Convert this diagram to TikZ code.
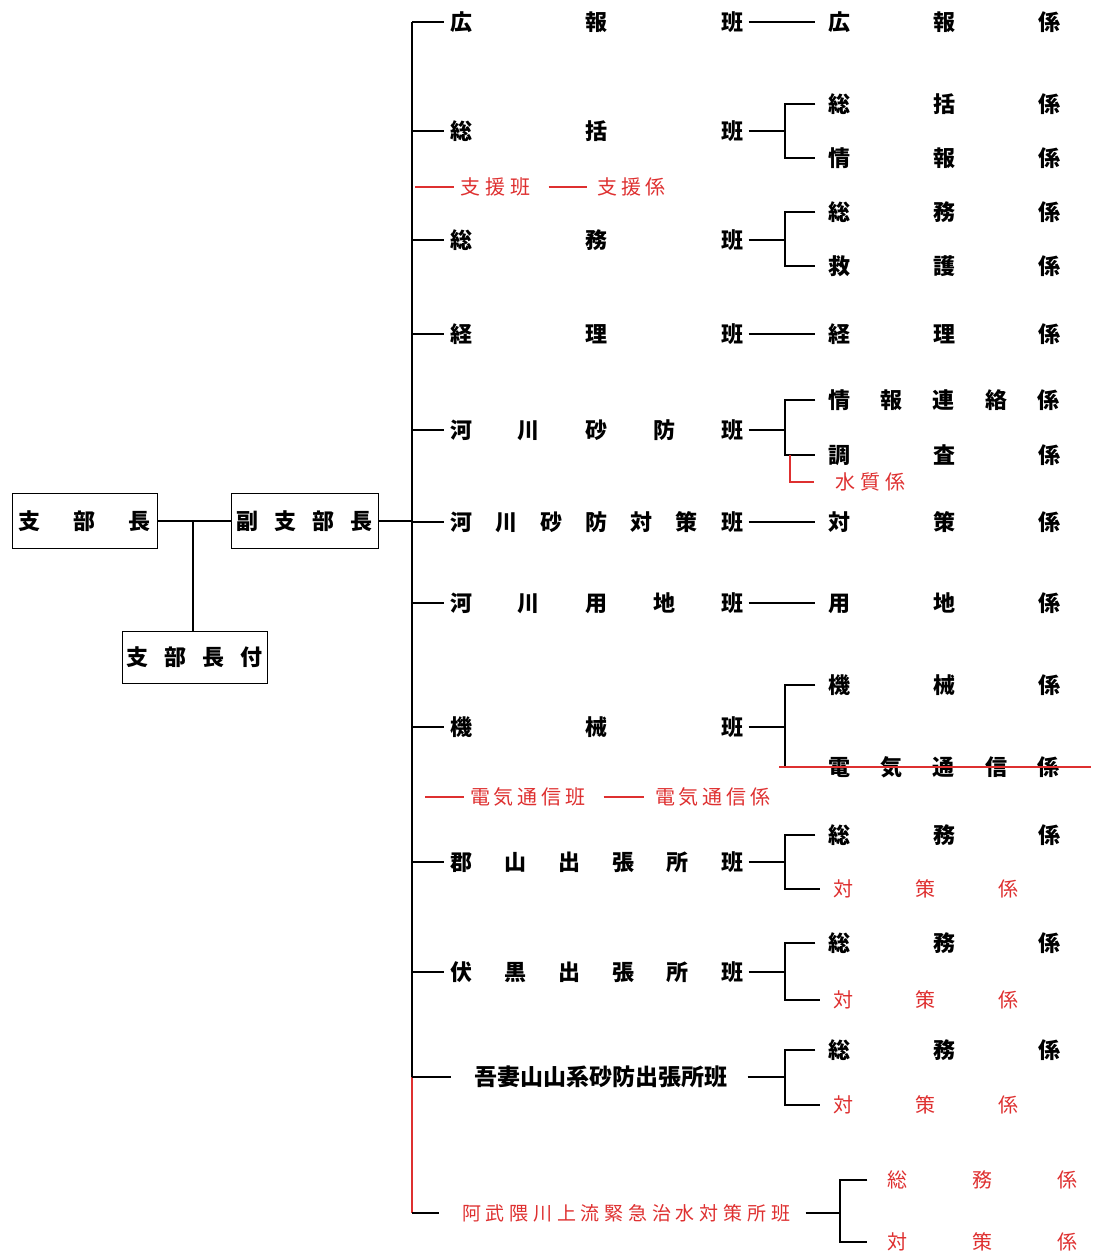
\documentclass[tikz,border=0pt]{standalone}
\usepackage{fontspec}
\newfontfamily\jp{Noto Sans CJK JP}
\definecolor{hanred}{RGB}{222,48,48}
\newcommand\spreadbox[2]{\hbox to #1pt{#2}}
\tikzset{
  ban/.style={inner sep=0pt, font=\jp\bfseries\fontsize{22}{22}\selectfont},
  akaban/.style={inner sep=0pt, text=hanred, font=\jp\fontsize{20}{20}\selectfont},
  waku/.style={ban, draw, line width=1pt, minimum height=55pt},
}
\begin{document}
\begin{tikzpicture}[x=1pt, y=-1pt, line width=1.2pt]
\useasboundingbox (0,0) rectangle (1094,1256);
% shibucho
\node[waku, minimum width=145pt] (bucho) at (84.5,521) {\spreadbox{133}{支\hfil 部\hfil 長}};
\node[waku, minimum width=147pt] (fuku) at (304.5,521) {\spreadbox{137}{副\hfil 支\hfil 部\hfil 長}};
\node[waku, minimum width=145pt, minimum height=52pt] (tsuki) at (194.5,657) {\spreadbox{136}{支\hfil 部\hfil 長\hfil 付}};
\draw (bucho.east) -- (fuku.west);
\coordinate (fukujunc) at (193,521);
\draw (fukujunc) -- (fukujunc |- tsuki.north);
% han
\node[ban] (koho) at (596.5,22) {\spreadbox{293}{広\hfil 報\hfil 班}};
\node[ban] (sokatsu) at (596.5,131) {\spreadbox{293}{総\hfil 括\hfil 班}};
\node[ban] (somu) at (596.5,240) {\spreadbox{293}{総\hfil 務\hfil 班}};
\node[ban] (keiri) at (596.5,334) {\spreadbox{293}{経\hfil 理\hfil 班}};
\node[ban] (sabo) at (596.5,430) {\spreadbox{293}{河\hfil 川\hfil 砂\hfil 防\hfil 班}};
\node[ban] (taisaku) at (596.5,522) {\spreadbox{293}{河\hfil 川\hfil 砂\hfil 防\hfil 対\hfil 策\hfil 班}};
\node[ban] (yochi) at (596.5,603) {\spreadbox{293}{河\hfil 川\hfil 用\hfil 地\hfil 班}};
\node[ban] (kikai) at (596.5,727) {\spreadbox{293}{機\hfil 械\hfil 班}};
\node[ban] (koriyama) at (596.5,862) {\spreadbox{293}{郡\hfil 山\hfil 出\hfil 張\hfil 所\hfil 班}};
\node[ban] (fushiguro) at (596.5,972) {\spreadbox{293}{伏\hfil 黒\hfil 出\hfil 張\hfil 所\hfil 班}};
\node[ban, font=\jp\bfseries\fontsize{23}{23}\selectfont] (azuma) at (600.5,1077) {吾妻山山系砂防出張所班};
\node[akaban, font=\jp\fontsize{19}{19}\selectfont] (abukuma) at (626,1213) {\spreadbox{328}{阿\hfil 武\hfil 隈\hfil 川\hfil 上\hfil 流\hfil 緊\hfil 急\hfil 治\hfil 水\hfil 対\hfil 策\hfil 所\hfil 班}};
% kakari
\node[ban] (kohok) at (944,22) {\spreadbox{232}{広\hfil 報\hfil 係}};
\node[ban] (sokatsuk) at (944,104) {\spreadbox{232}{総\hfil 括\hfil 係}};
\node[ban] (johok) at (944,158) {\spreadbox{232}{情\hfil 報\hfil 係}};
\node[ban] (somuk) at (944,212) {\spreadbox{232}{総\hfil 務\hfil 係}};
\node[ban] (kyugok) at (944,266) {\spreadbox{232}{救\hfil 護\hfil 係}};
\node[ban] (keirik) at (944,334) {\spreadbox{232}{経\hfil 理\hfil 係}};
\node[ban] (renrakuk) at (944,400) {\spreadbox{232}{情\hfil 報\hfil 連\hfil 絡\hfil 係}};
\node[ban] (chosak) at (944,455) {\spreadbox{232}{調\hfil 査\hfil 係}};
\node[akaban] (suishitsuk) at (870,482) {\spreadbox{70}{水\hfil 質\hfil 係}};
\node[ban] (taisakuk) at (944,522) {\spreadbox{232}{対\hfil 策\hfil 係}};
\node[ban] (yochik) at (944,603) {\spreadbox{232}{用\hfil 地\hfil 係}};
\node[ban] (kikaik) at (944,685) {\spreadbox{232}{機\hfil 械\hfil 係}};
\node[ban] (denkik) at (944,767) {\spreadbox{232}{電\hfil 気\hfil 通\hfil 信\hfil 係}};
\node[ban] (korsomu) at (944,835) {\spreadbox{232}{総\hfil 務\hfil 係}};
\node[akaban] (kortai) at (925.5,889) {\spreadbox{185}{対\hfil 策\hfil 係}};
\node[ban] (fussomu) at (944,943) {\spreadbox{232}{総\hfil 務\hfil 係}};
\node[akaban] (fustai) at (925.5,1000) {\spreadbox{185}{対\hfil 策\hfil 係}};
\node[ban] (azusomu) at (944,1050) {\spreadbox{232}{総\hfil 務\hfil 係}};
\node[akaban] (azutai) at (925.5,1105) {\spreadbox{185}{対\hfil 策\hfil 係}};
\node[akaban] (abusomu) at (982,1180) {\spreadbox{190}{総\hfil 務\hfil 係}};
\node[akaban] (abutai) at (982,1242) {\spreadbox{190}{対\hfil 策\hfil 係}};
% shien, denki tsushin (aka)
\node[akaban] (shien) at (495,187) {\spreadbox{70}{支\hfil 援\hfil 班}};
\node[akaban] (shienk) at (631,187) {\spreadbox{68}{支\hfil 援\hfil 係}};
\node[akaban] (denkiban) at (527.5,797) {\spreadbox{115}{電\hfil 気\hfil 通\hfil 信\hfil 班}};
\node[akaban] (denkigakari) at (712.5,797) {\spreadbox{115}{電\hfil 気\hfil 通\hfil 信\hfil 係}};
% kansen
\coordinate (trunk) at (412,22);
\coordinate (br) at (785,0);
\coordinate (br2) at (840,0);
\draw (fuku.east) -- (trunk |- fuku.east);
\draw (trunk) -- (trunk |- azuma.west);
\draw[hanred] (trunk |- azuma.west) -- (trunk |- abukuma.west);
\draw (trunk |- abukuma.west) -- ([xshift=-22pt]abukuma.west);
\foreach \g in {koho,sokatsu,somu,keiri,sabo,taisaku,yochi,kikai,koriyama,fushiguro}
  \draw (trunk |- \g.west) -- ([xshift=-5pt]\g.west);
\draw (trunk |- azuma.west) -- ([xshift=-22pt]azuma.west);
\draw[hanred] ([xshift=3pt]trunk |- shien.west) -- ([xshift=-5pt]shien.west);
\draw[hanred] ([xshift=18pt]shien.east) -- ([xshift=-9pt]shienk.west);
\draw[hanred] ([xshift=13pt]trunk |- denkiban.west) -- ([xshift=-5pt]denkiban.west);
\draw[hanred] ([xshift=18pt]denkiban.east) -- ([xshift=-10pt]denkigakari.west);
% han -- kakari
\foreach \g/\k in {koho/kohok, keiri/keirik, taisaku/taisakuk, yochi/yochik}
  \draw ([xshift=5pt]\g.east) -- ([xshift=-12pt]\k.west);
\foreach \g/\a/\b in {sokatsu/sokatsuk/johok, somu/somuk/kyugok, sabo/renrakuk/chosak, kikai/kikaik/denkik, koriyama/korsomu/kortai, fushiguro/fussomu/fustai}{
  \draw ([xshift=5pt]\g.east) -- (br |- \g.east);
  \draw ([xshift=-12pt]\a.west) -| (br |- \g.east) |- ([xshift=-12pt]\b.west);
}
\draw ([xshift=20pt]azuma.east) -- (br |- azuma.east);
\draw ([xshift=-12pt]azusomu.west) -| (br |- azuma.east) |- ([xshift=-12pt]azutai.west);
\draw ([xshift=15pt]abukuma.east) -- (br2 |- abukuma.east);
\draw ([xshift=-19pt]abusomu.west) -| (br2 |- abukuma.east) |- ([xshift=-19pt]abutai.west);
\draw[hanred] ([xshift=5pt]br |- chosak.west) |- ([xshift=-20pt]suishitsuk.west);
\draw[hanred] ([xshift=-48pt]denkik.west) -- ([xshift=30pt]denkik.east);
\end{tikzpicture}
\end{document}
